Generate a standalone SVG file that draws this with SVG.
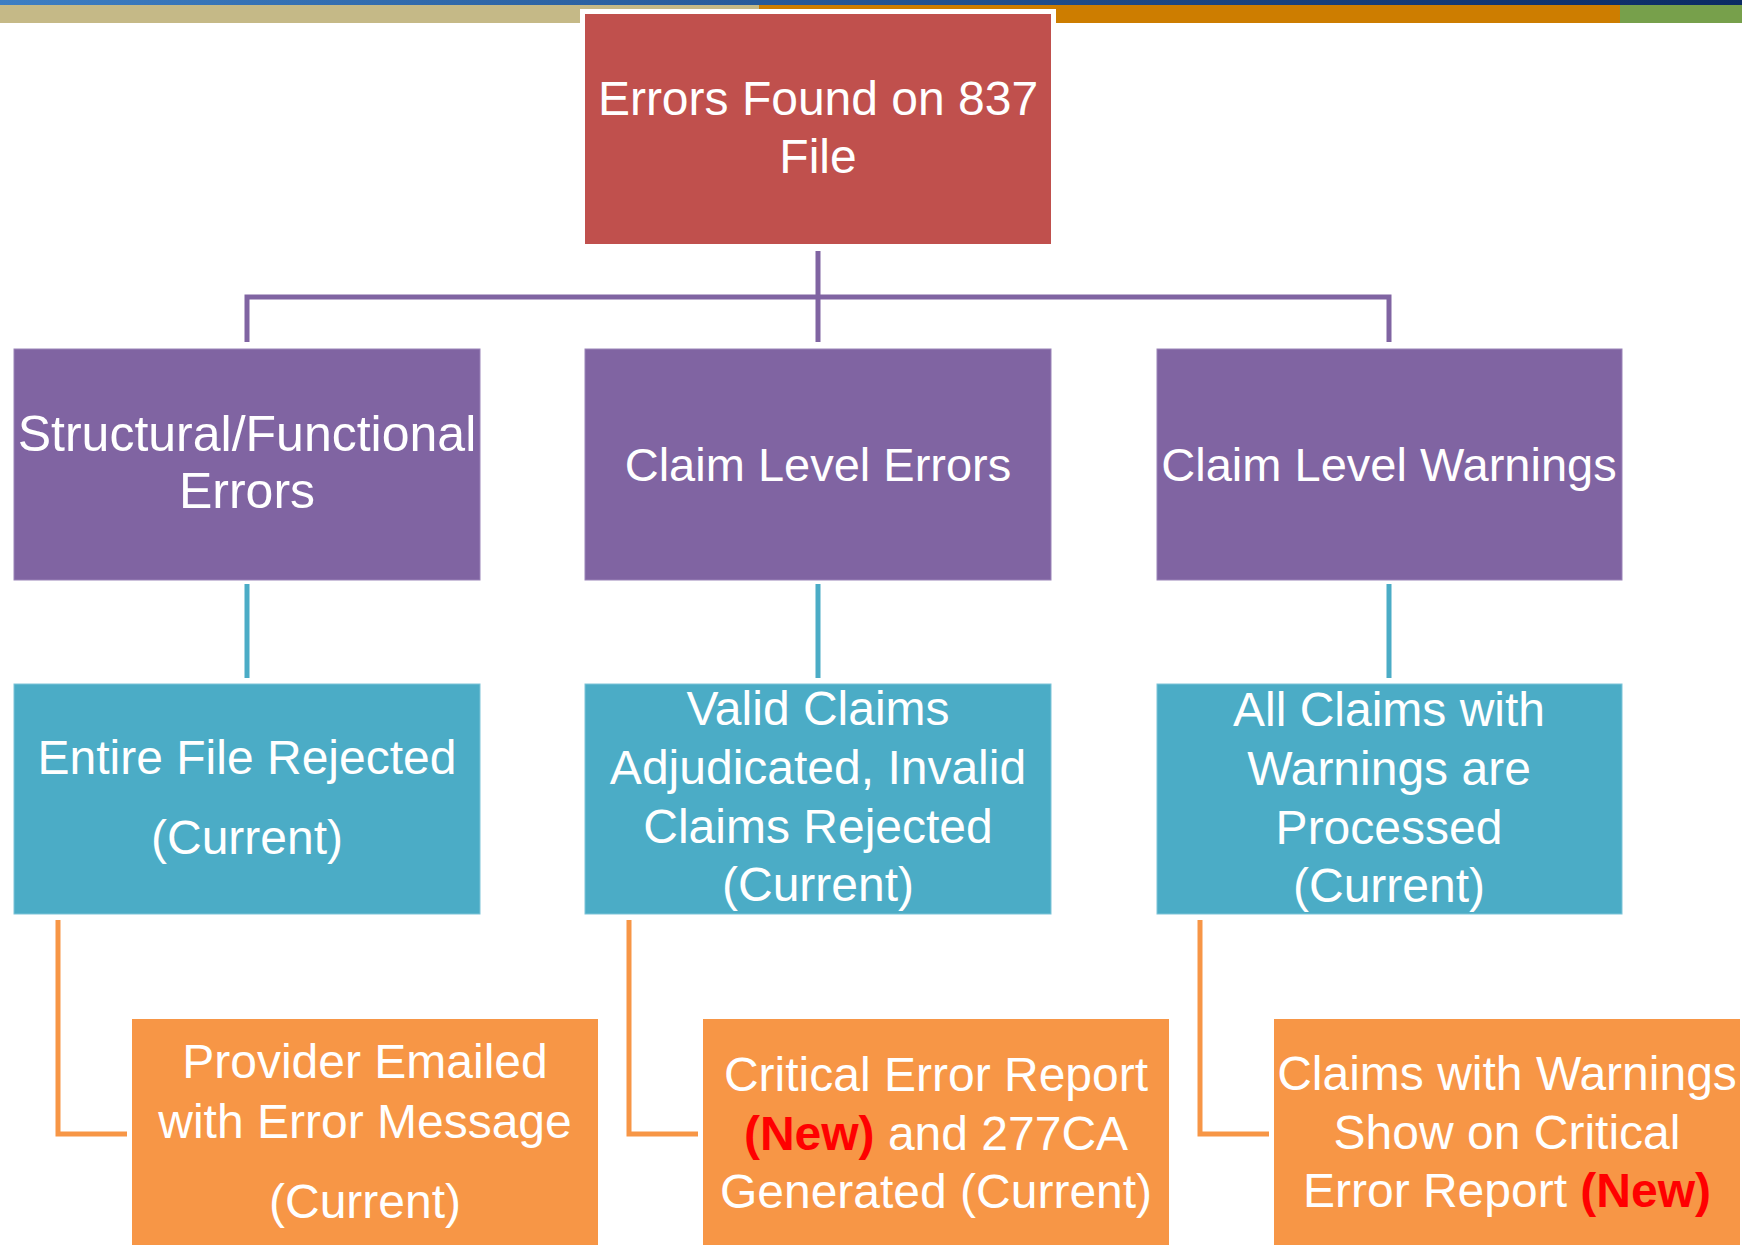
<svg xmlns="http://www.w3.org/2000/svg" width="1742" height="1245" viewBox="0 0 1742 1245">
<defs>
<linearGradient id="topg" x1="0" y1="0" x2="1" y2="0">
<stop offset="0" stop-color="#3D7EC3"/>
<stop offset="1" stop-color="#0B2B64"/>
</linearGradient>
<style>
.t{font-family:"Liberation Sans",Arial,sans-serif;fill:#FFFFFF;text-anchor:middle;font-size:48px}
.tp{font-size:50px}
.tc{font-size:47px}
.new{fill:#FF0000;font-weight:bold}
.red{fill:#C0504D}
.pur{fill:#8064A2;stroke:#9A83B8;stroke-width:1}
.teal{fill:#4BACC6;stroke:#7CC4D8;stroke-width:1}
.org{fill:#F79646}
.cp{stroke:#8064A2;stroke-width:5;fill:none}
.ct{stroke:#4BACC6;stroke-width:5;fill:none}
.co{stroke:#F79646;stroke-width:5;fill:none}
</style>
</defs>
<rect width="1742" height="1245" fill="#FFFFFF"/>
<g id="topbar">
<rect x="0" y="0" width="1742" height="5" fill="url(#topg)"/>
<rect x="0" y="5" width="759" height="18" fill="#C5B987"/>
<rect x="759" y="5" width="861" height="18" fill="#CD7D00"/>
<rect x="1620" y="5" width="122" height="18" fill="#77A04B"/>
</g>
<g id="connectors">
<path class="cp" d="M818,251 V342 M247,342 V297 H1389 V342"/>
<path class="ct" d="M247,584 V678 M818,584 V678 M1389,584 V678"/>
<path class="co" d="M58,920 V1134 H127 M629,920 V1134 H698 M1200,920 V1134 H1269"/>
</g>
<g id="root">
<rect x="580" y="9" width="476" height="240" fill="#FFFFFF"/>
<rect class="red" x="585" y="14" width="466" height="230"/>
<text class="t" x="818" y="115">Errors Found on 837</text>
<text class="t" x="818" y="173">File</text>
</g>
<g id="structural">
<rect class="pur" x="14" y="349" width="466" height="231"/>
<text class="t tp" x="247" y="451">Structural/Functional</text>
<text class="t tp" x="247" y="508">Errors</text>
</g>
<g id="claim-errors">
<rect class="pur" x="585" y="349" width="466" height="231"/>
<text class="t tc" x="818" y="481">Claim Level Errors</text>
</g>
<g id="claim-warnings">
<rect class="pur" x="1157" y="349" width="465" height="231"/>
<text class="t tc" x="1389" y="481">Claim Level Warnings</text>
</g>
<g id="file-rejected">
<rect class="teal" x="14" y="684" width="466" height="230"/>
<text class="t" x="247" y="774">Entire File Rejected</text>
<text class="t" x="247" y="854">(Current)</text>
</g>
<g id="valid-claims">
<rect class="teal" x="585" y="684" width="466" height="230"/>
<text class="t" x="818" y="725">Valid Claims</text>
<text class="t" x="818" y="784">Adjudicated, Invalid</text>
<text class="t" x="818" y="843">Claims Rejected</text>
<text class="t" x="818" y="901">(Current)</text>
</g>
<g id="warnings-processed">
<rect class="teal" x="1157" y="684" width="465" height="230"/>
<text class="t" x="1389" y="726">All Claims with</text>
<text class="t" x="1389" y="785">Warnings are</text>
<text class="t" x="1389" y="844">Processed</text>
<text class="t" x="1389" y="902">(Current)</text>
</g>
<g id="provider-emailed">
<rect class="org" x="132" y="1019" width="466" height="226"/>
<text class="t" x="365" y="1078">Provider Emailed</text>
<text class="t" x="365" y="1138">with Error Message</text>
<text class="t" x="365" y="1218">(Current)</text>
</g>
<g id="critical-report">
<rect class="org" x="703" y="1019" width="466" height="226"/>
<text class="t" x="936" y="1091">Critical Error Report</text>
<text class="t" x="936" y="1150"><tspan class="new">(New)</tspan> and 277CA</text>
<text class="t" x="936" y="1208">Generated (Current)</text>
</g>
<g id="warnings-report">
<rect class="org" x="1274" y="1019" width="466" height="226"/>
<text class="t" x="1507" y="1090">Claims with Warnings</text>
<text class="t" x="1507" y="1149">Show on Critical</text>
<text class="t" x="1507" y="1207">Error Report <tspan class="new">(New)</tspan></text>
</g>
</svg>
